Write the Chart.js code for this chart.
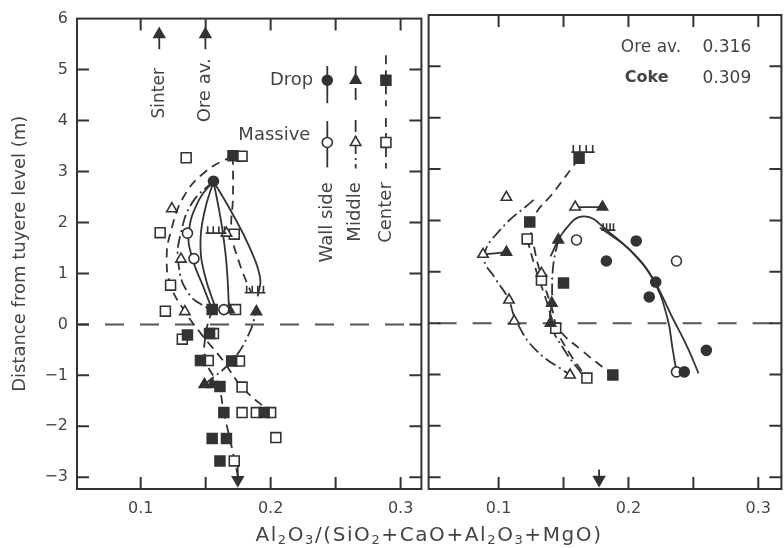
<!DOCTYPE html>
<html>
<head>
<meta charset="utf-8">
<script src="https://cdn.jsdelivr.net/npm/chart.js@4/dist/chart.umd.min.js"></script>
<style>
  html, body { margin: 0; padding: 0; background: #fff; width: 784px; height: 548px; overflow: hidden; }
  #wrap { position: relative; width: 784px; height: 548px; overflow: hidden; }
  canvas { position: absolute; top: 0; }
  #left { left: 0; }
  #right { left: 420px; }
  #xtitle { position: absolute; top: 522px; left: 0; width: 858px; text-align: center; white-space: nowrap;
            font: 20px "DejaVu Sans", sans-serif; letter-spacing: 1.6px; color: #444; }
  #xtitle sub { font-size: 13px; vertical-align: -3px; }
</style>
</head>
<body>
<div id="wrap">
  <canvas id="left" width="430" height="548"></canvas>
  <canvas id="right" width="370" height="548"></canvas>
  <div id="xtitle">Al<sub>2</sub>O<sub>3</sub>/(SiO<sub>2</sub>+CaO+Al<sub>2</sub>O<sub>3</sub>+MgO)</div>
</div>
<script>
// axis ticks
const yTicks = [6, 5, 4, 3, 2, 1, 0, -1, -2, -3];
const xLabelTicks = [0.1, 0.2, 0.3];
const xTickMarks = [0.1, 0.15, 0.2, 0.25, 0.3];

// left panel - markers  [ratio, distance]
const leftOpenSquares = [[0.135,3.27],[0.178,3.30],[0.115,1.80],[0.172,1.77],[0.123,0.77],[0.119,0.26],
  [0.173,0.29],[0.132,-0.29],[0.156,-0.18],[0.152,-0.71],[0.176,-0.72],[0.178,-1.23],[0.178,-1.73],
  [0.189,-1.73],[0.200,-1.73],[0.204,-2.22],[0.172,-2.68]];
const leftFilledSquares = [[0.171,3.31],[0.155,0.29],[0.136,-0.21],[0.153,-0.18],[0.146,-0.71],[0.170,-0.72],
  [0.161,-1.22],[0.164,-1.73],[0.195,-1.73],[0.155,-2.24],[0.166,-2.24],[0.161,-2.68]];
const leftOpenTriangles = [[0.124,2.27],[0.131,1.28],[0.134,0.25],[0.166,1.79]];
const leftFilledTriangles = [[0.189,0.25],[0.149,-1.18],[0.155,-1.18],[0.168,0.29]];
const leftOpenCircles = [[0.136,1.79],[0.141,1.29],[0.164,0.29]];
const leftFilledCircles = [[0.156,2.81]];
const leftHashes = [[0.150,0.166,1.79],[0.180,0.196,0.62]];
const leftArrowUpX = [0.1143, 0.1498];
const leftArrowDownX = [0.1747];

// left panel - curves
const leftWallA = [[0.156,2.81],[0.145,2.45],[0.137,1.8],[0.140,1.28],[0.148,0.75],[0.155,0.29]];
const leftWallB = [[0.156,2.81],[0.149,2.2],[0.146,1.6],[0.149,1.0],[0.158,0.29]];
const leftWallC = [[0.156,2.81],[0.162,2.0],[0.166,1.2],[0.168,0.29]];
const leftWallD = [[0.156,2.81],[0.170,2.2],[0.184,1.5],[0.192,0.9],[0.190,0.55]];
const leftMidA = [[0.156,2.81],[0.140,2.4],[0.131,1.8],[0.129,1.2],[0.137,0.6],[0.153,0.29]];
const leftMidB = [[0.149,-1.18],[0.170,-0.72],[0.183,-0.2],[0.189,0.25]];
const leftCenA = [[0.171,3.31],[0.171,2.5],[0.170,1.8],[0.176,1.2],[0.185,0.62]];
const leftCenB = [[0.171,3.31],[0.150,3.0],[0.133,2.5],[0.123,1.8],[0.120,1.3],[0.123,0.77],[0.134,0.25],
  [0.147,-0.2],[0.163,-0.7],[0.178,-1.23],[0.200,-1.73]];
const leftCenC = [[0.155,0.29],[0.150,-0.2],[0.150,-0.7],[0.160,-1.22],[0.164,-1.73],[0.170,-2.4],[0.175,-3.0]];

// right panel - markers
const rightOpenSquares = [[0.122,1.64],[0.133,0.84],[0.144,-0.10],[0.168,-1.07]];
const rightFilledSquares = [[0.162,3.21],[0.124,1.97],[0.150,0.78],[0.188,-1.01]];
const rightOpenTriangles = [[0.106,2.45],[0.159,2.26],[0.088,1.34],[0.108,0.45],[0.112,0.04],[0.155,-1.01],[0.133,0.97]];
const rightFilledTriangles = [[0.180,2.26],[0.106,1.38],[0.146,1.62],[0.141,0.39],[0.140,0.0]];
const rightOpenCircles = [[0.160,1.62],[0.237,1.21],[0.237,-0.95]];
const rightFilledCircles = [[0.206,1.60],[0.183,1.21],[0.221,0.80],[0.216,0.51],[0.260,-0.53],[0.243,-0.95]];
const rightHashes = [[0.156,0.174,3.33],[0.179,0.190,1.81]];
const rightArrowDownX = [0.1774];

// right panel - curves
const rightWallA = [[0.140,1.30],[0.150,1.78],[0.166,2.08],[0.186,1.75],[0.205,1.32],[0.220,0.80],[0.230,0.1],[0.234,-0.5],[0.237,-0.95]];
const rightWallB = [[0.178,1.86],[0.200,1.45],[0.218,0.9],[0.234,0.1],[0.246,-0.5],[0.254,-0.98]];
const rightMidA = [[0.127,2.40],[0.101,1.81],[0.089,1.29],[0.098,0.85],[0.107,0.5],[0.114,0.02],[0.129,-0.53],[0.155,-1.01]];
const rightMidB = [[0.146,1.62],[0.142,1.1],[0.141,0.39],[0.140,0.0],[0.150,-0.5],[0.165,-1.02]];
const rightCenA = [[0.162,3.21],[0.144,2.6],[0.126,1.98],[0.128,1.4],[0.134,0.84],[0.141,0.3],[0.146,-0.1],[0.165,-0.55],[0.188,-1.01]];
const rightCenB = [[0.122,1.64],[0.128,1.1],[0.136,0.5],[0.144,-0.1],[0.155,-0.6],[0.168,-1.07]];
const rightJoins = [[[0.159,2.26],[0.180,2.26]], [[0.088,1.34],[0.106,1.38]]];

const INK = '#333';
const TXT = '#444';
const FONT = '"DejaVu Sans", sans-serif';
const SOLID = [], DASH = [9, 6], DASHDOT = [12, 4, 2, 4];
Chart.defaults.font.family = FONT;
Chart.defaults.font.size = 16;
Chart.defaults.color = TXT;

const pts = a => a.map(([x, y]) => ({x, y}));

function marks(data, style, filled, r) {
  return { data: pts(data), pointStyle: style, pointRadius: r, pointHoverRadius: r,
    backgroundColor: filled ? INK : '#fff', borderColor: INK, borderWidth: 1.6, showLine: false };
}
function curve(data, dash) {
  return { data: pts(data), showLine: true, borderColor: INK, borderWidth: 1.8, borderDash: dash,
    pointRadius: 0, tension: 0.45 };
}
function arrow(x, y0, y1, up) {
  return { data: [{x, y: y0}, {x, y: y1}], showLine: true, borderColor: INK, borderWidth: 1.8,
    pointRadius: [0, 6], pointStyle: 'triangle', rotation: up ? 0 : 180, backgroundColor: INK };
}
function zeroLine(min, max, offset) {
  return { data: [{x: min, y: 0}, {x: max, y: 0}], showLine: true, borderColor: '#555', borderWidth: 2,
    borderDash: [19, 16], borderDashOffset: offset, pointRadius: 0 };
}
const fmtY = v => v < 0 ? '\u2212' + Math.abs(v) : String(v);

const framePlugin = {
  id: 'frame',
  afterDatasetsDraw(chart, args, o) {
    const {ctx, chartArea: a, scales: {x, y}} = chart;
    const T = 12;
    ctx.save();
    ctx.strokeStyle = INK;
    ctx.lineWidth = 2;
    ctx.strokeRect(a.left, a.top, a.right - a.left, a.bottom - a.top);
    ctx.beginPath();
    xTickMarks.forEach(v => {
      const px = x.getPixelForValue(v);
      ctx.moveTo(px, a.bottom); ctx.lineTo(px, a.bottom - T);
      ctx.moveTo(px, a.top); ctx.lineTo(px, a.top + T);
    });
    yTicks.forEach(v => {
      const py = y.getPixelForValue(v);
      if (py < a.top + 2) return;
      ctx.moveTo(a.left, py); ctx.lineTo(a.left + T, py);
      ctx.moveTo(a.right, py); ctx.lineTo(a.right - T, py);
    });
    ctx.stroke();

    // hatched marks
    ctx.lineWidth = 1.6;
    (o.hashes || []).forEach(([x0, x1, v]) => {
      const p0 = x.getPixelForValue(x0), p1 = x.getPixelForValue(x1), py = y.getPixelForValue(v);
      ctx.beginPath();
      ctx.moveTo(p0, py); ctx.lineTo(p1, py);
      for (let i = 0; i < 4; i++) {
        const px = p0 + 2 + i * (p1 - p0 - 4) / 3;
        ctx.moveTo(px, py); ctx.lineTo(px, py - 7);
      }
      ctx.stroke();
    });
    ctx.restore();
  },
  afterDraw(chart, args, o) {
    const {ctx, scales: {x, y}} = chart;
    ctx.save();
    ctx.fillStyle = TXT;
    ctx.textBaseline = 'middle';
    (o.texts || []).forEach(t => {
      const px = x.getPixelForValue(t.x), py = y.getPixelForValue(t.y);
      ctx.save();
      ctx.font = (t.bold ? 'bold ' : '') + (t.size || 18) + 'px ' + FONT;
      ctx.translate(px, py);
      if (t.rot) ctx.rotate(-Math.PI / 2);
      ctx.textAlign = t.align || 'left';
      ctx.fillText(t.text, 0, 0);
      ctx.restore();
    });

    if (o.legend) {
      const cols = [
        {x: 0.2436, dash: SOLID, style: 'circle', r: 5, drop: [5.07, 4.34], mass: [3.99, 3.08]},
        {x: 0.2654, dash: DASHDOT, style: 'triangle', r: 6, drop: [5.07, 4.34], mass: [4.01, 3.06]},
        {x: 0.2887, dash: DASH, style: 'rect', r: 7, drop: [5.28, 4.28], mass: [4.05, 3.06]}
      ];
      const dropY = 4.79, massY = 3.57;
      cols.forEach(c => {
        const px = x.getPixelForValue(c.x);
        ctx.strokeStyle = INK;
        ctx.lineWidth = 1.8;
        ctx.setLineDash(c.dash);
        [c.drop, c.mass].forEach(([a, b]) => {
          ctx.beginPath();
          ctx.moveTo(px, y.getPixelForValue(a));
          ctx.lineTo(px, y.getPixelForValue(b));
          ctx.stroke();
        });
        ctx.setLineDash([]);
        ctx.lineWidth = 1.6;
        ctx.fillStyle = INK;
        Chart.helpers.drawPoint(ctx, {pointStyle: c.style, radius: c.r, rotation: 0, borderWidth: 1.6}, px, y.getPixelForValue(dropY));
        ctx.fillStyle = '#fff';
        Chart.helpers.drawPoint(ctx, {pointStyle: c.style, radius: c.r, rotation: 0, borderWidth: 1.6}, px, y.getPixelForValue(massY));
      });
    }
    ctx.restore();
  }
};

function scaleX(min, max) {
  return {
    type: 'linear', min, max,
    grid: { display: false, drawTicks: false }, border: { display: false },
    afterBuildTicks: s => { s.ticks = xLabelTicks.map(v => ({value: v})); },
    afterFit: s => { s.height = 59; },
    ticks: { padding: 10, autoSkip: false, maxRotation: 0, callback: v => String(v), color: TXT }
  };
}

const leftDatasets = [
  marks(leftFilledCircles, 'circle', true, 5),
  marks(leftOpenCircles, 'circle', false, 5),
  marks(leftFilledTriangles, 'triangle', true, 6),
  marks(leftOpenTriangles, 'triangle', false, 6),
  marks(leftFilledSquares, 'rect', true, 7),
  marks(leftOpenSquares, 'rect', false, 7),
  ...leftArrowUpX.map(v => arrow(v, 5.40, 5.69, true)),
  ...leftArrowDownX.map(v => arrow(v, -2.70, -3.05, false)),
  curve(leftWallA, SOLID), curve(leftWallB, SOLID), curve(leftWallC, SOLID), curve(leftWallD, SOLID),
  curve(leftMidA, DASHDOT), curve(leftMidB, DASHDOT),
  curve(leftCenA, DASH), curve(leftCenB, DASH), curve(leftCenC, DASH),
  zeroLine(0.051, 0.316, 7)
];

new Chart(document.getElementById('left'), {
  type: 'scatter',
  data: { datasets: leftDatasets },
  options: {
    responsive: false, animation: false, devicePixelRatio: 1,
    layout: { padding: { top: 15, right: 2, left: 0, bottom: 0 } },
    plugins: {
      legend: { display: false }, tooltip: { enabled: false },
      frame: {
        hashes: leftHashes,
        legend: true,
        texts: [
          {text: 'Sinter', x: 0.1143, y: 5.03, rot: true, align: 'right', size: 17},
          {text: 'Ore av.', x: 0.1498, y: 5.22, rot: true, align: 'right'},
          {text: 'Drop', x: 0.2328, y: 4.79, align: 'right'},
          {text: 'Massive', x: 0.2306, y: 3.70, align: 'right'},
          {text: 'Wall side', x: 0.2436, y: 2.79, rot: true, align: 'right'},
          {text: 'Middle', x: 0.2654, y: 2.79, rot: true, align: 'right'},
          {text: 'Center', x: 0.2887, y: 2.79, rot: true, align: 'right'}
        ]
      }
    },
    scales: {
      x: scaleX(0.051, 0.316),
      y: {
        type: 'linear', min: -3.23, max: 6,
        grid: { display: false, drawTicks: false }, border: { display: false },
        afterBuildTicks: s => { s.ticks = yTicks.map(v => ({value: v})); },
        afterFit: s => { s.width = 77; },
        ticks: { padding: 9, autoSkip: false, callback: fmtY, color: TXT },
        title: { display: true, text: 'Distance from tuyere level (m)', color: TXT, font: { size: 18 }, padding: { top: 10, bottom: 0 } }
      }
    }
  },
  plugins: [framePlugin]
});

const rightDatasets = [
  marks(rightFilledCircles, 'circle', true, 5),
  marks(rightOpenCircles, 'circle', false, 5),
  marks(rightFilledTriangles, 'triangle', true, 6),
  marks(rightOpenTriangles, 'triangle', false, 6),
  marks(rightFilledSquares, 'rect', true, 7),
  marks(rightOpenSquares, 'rect', false, 7),
  ...rightArrowDownX.map(v => arrow(v, -2.85, -3.05, false)),
  ...rightJoins.map(j => curve(j, SOLID)),
  curve(rightWallA, SOLID), curve(rightWallB, SOLID),
  curve(rightMidA, DASHDOT), curve(rightMidB, DASHDOT),
  curve(rightCenA, DASH), curve(rightCenB, DASH),
  zeroLine(0.0461, 0.3178, 26)
];

new Chart(document.getElementById('right'), {
  type: 'scatter',
  data: { datasets: rightDatasets },
  options: {
    responsive: false, animation: false, devicePixelRatio: 1,
    layout: { padding: { top: 15, right: 4, left: 8, bottom: 0 } },
    plugins: {
      legend: { display: false }, tooltip: { enabled: false },
      frame: {
        hashes: rightHashes,
        texts: [
          {text: 'Ore av.', x: 0.1941, y: 5.36, size: 17},
          {text: '0.316', x: 0.2571, y: 5.36, size: 17},
          {text: 'Coke', x: 0.1972, y: 4.77, size: 16, bold: true},
          {text: '0.309', x: 0.2571, y: 4.77, size: 17}
        ]
      }
    },
    scales: {
      x: scaleX(0.0461, 0.3178),
      y: { type: 'linear', min: -3.23, max: 6, display: false }
    }
  },
  plugins: [framePlugin]
});
</script>
</body>
</html>
